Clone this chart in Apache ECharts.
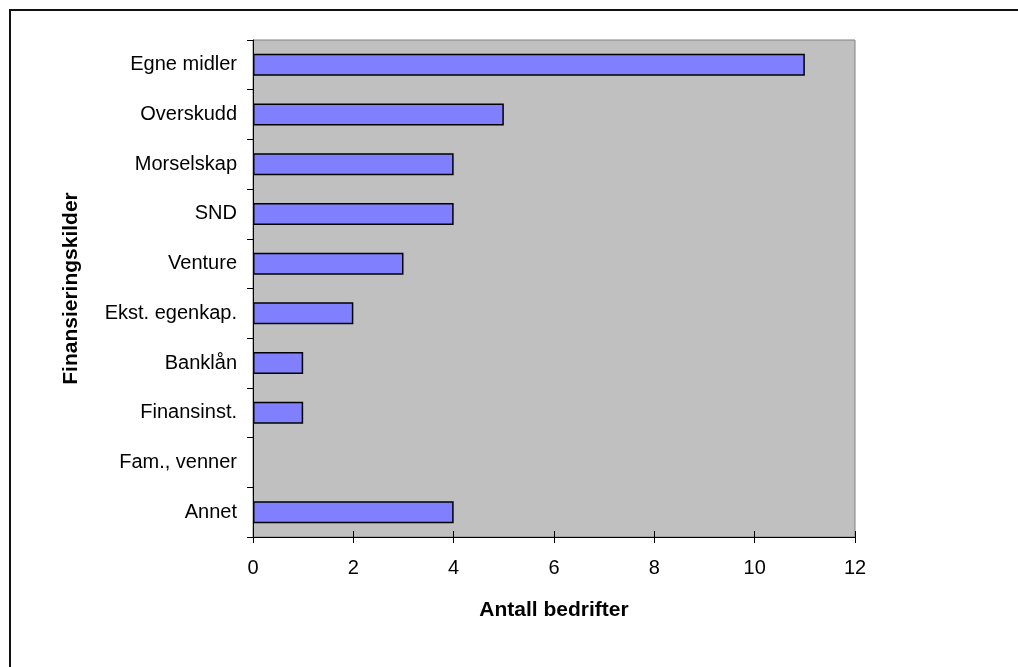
<!DOCTYPE html>
<html>
<head>
<meta charset="utf-8">
<script src="https://cdn.jsdelivr.net/npm/echarts@6/dist/echarts.min.js"></script>
<style>
  html, body { margin: 0; padding: 0; background: #fff; }
  #chart { width: 1018px; height: 667px; }
</style>
</head>
<body>
<div id="chart"></div>
<script>
// Financing sources and number of companies using each
const categories = ['Egne midler', 'Overskudd', 'Morselskap', 'SND', 'Venture',
  'Ekst. egenkap.', 'Banklån', 'Finansinst.', 'Fam., venner', 'Annet'];
const companies = [11, 5, 4, 4, 3, 2, 1, 1, 0, 4];
const xTicks = { min: 0, max: 12, interval: 2 };
const xTitle = 'Antall bedrifter';
const yTitle = 'Finansieringskilder';

const font = 'Liberation Sans, Arial, sans-serif';
const chart = echarts.init(document.getElementById('chart'), null, { renderer: 'canvas' });

// zero-length bars get no outline, so nothing is drawn for them
const barData = companies.map(v => v === 0 ? { value: v, itemStyle: { borderWidth: 0 } } : v);

chart.setOption({
  animation: false,
  backgroundColor: '#ffffff',
  graphic: [{
    type: 'rect',
    shape: { x: 10, y: 10, width: 1100, height: 800 },
    style: { fill: 'none', stroke: '#111', lineWidth: 2 },
    z: 100
  }],
  grid: {
    left: 253, top: 40, width: 602, height: 497,
    show: true, backgroundColor: '#c0c0c0',
    borderColor: '#808080', borderWidth: 1
  },
  xAxis: [{
    type: 'value',
    min: xTicks.min, max: xTicks.max, interval: xTicks.interval,
    name: xTitle, nameLocation: 'middle', nameGap: 63,
    nameTextStyle: { fontFamily: font, fontSize: 21, fontWeight: 'bold', color: '#000' },
    axisLine: { show: true, lineStyle: { color: '#000', width: 1 } },
    axisTick: { show: true, length: 6, lineStyle: { color: '#000' } },
    axisLabel: { fontFamily: font, fontSize: 20, color: '#000', margin: 21 },
    splitLine: { show: false }
  }, {
    // inner half of the crossing ticks on the value axis
    type: 'value', position: 'bottom',
    min: xTicks.min, max: xTicks.max, interval: xTicks.interval,
    axisLine: { show: false },
    axisTick: { show: true, inside: true, length: 6, lineStyle: { color: '#000' } },
    axisLabel: { show: false },
    splitLine: { show: false }
  }],
  yAxis: {
    type: 'category', data: categories, inverse: true,
    name: yTitle, nameLocation: 'middle', nameGap: 171, nameRotate: 90,
    nameTextStyle: { fontFamily: font, fontSize: 21, fontWeight: 'bold', color: '#000' },
    axisLine: { show: true, lineStyle: { color: '#000', width: 1 } },
    axisTick: { show: true, length: 6, alignWithLabel: false, lineStyle: { color: '#000' } },
    axisLabel: { fontFamily: font, fontSize: 20, color: '#000', margin: 16 },
    splitLine: { show: false }
  },
  series: [{
    type: 'bar', data: barData, barWidth: 22, xAxisIndex: 0,
    itemStyle: { color: '#8080ff', borderColor: '#000', borderWidth: 1.5 }
  }]
});
</script>
</body>
</html>
